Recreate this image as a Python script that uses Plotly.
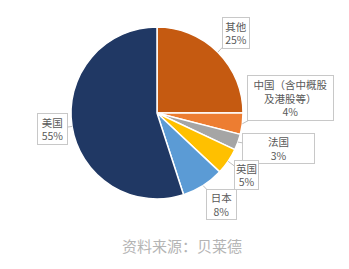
import math
import plotly.graph_objects as go

categories = ["其他", "中国（含中概股<br>及港股等）", "法国", "英国", "日本", "美国"]
values = [25, 4, 3, 5, 8, 55]
colors = ["#C55A11", "#ED7D31", "#A5A5A5", "#FFC000", "#5B9BD5", "#203864"]
# label box geometry in pixels (left, top, right, bottom)
boxes = [(222, 17, 250, 49), (247, 75, 334, 121), (242, 133, 315, 164),
         (234, 160, 259, 190), (206, 189, 237, 220), (37, 113, 68, 145)]

W, H = 349, 269
cx_px, cy_px, r_px = 157, 113, 86

fig = go.Figure(go.Pie(
    labels=categories, values=values, sort=False, direction="clockwise", rotation=0,
    marker=dict(colors=colors, line=dict(color="white", width=1.5)),
    textinfo="none", hoverinfo="label+percent", showlegend=False,
    domain=dict(x=[(cx_px - r_px) / W, (cx_px + r_px) / W],
                y=[(H - cy_px - r_px) / H, (H - cy_px + r_px) / H]),
))

total = sum(values)
cum = 0
annotations = []
for cat, v, (l, t, rr, b) in zip(categories, values, boxes):
    mid = (cum + v / 2) / total * 2 * math.pi
    cum += v
    tx = cx_px + r_px * math.sin(mid)
    ty = cy_px - r_px * math.cos(mid)
    bx, by = (l + rr) / 2, (t + b) / 2
    annotations.append(dict(
        x=tx / W, y=1 - ty / H, xref="paper", yref="paper",
        ax=bx - tx, ay=by - ty, axref="pixel", ayref="pixel",
        text=f"{cat}<br>{round(v / total * 100)}%",
        showarrow=True, arrowhead=0, arrowwidth=1, arrowcolor="#BFBFBF",
        bordercolor="#C8C8C8", borderwidth=1, borderpad=1, bgcolor="white",
        width=rr - l - 4, height=b - t - 4, align="center",
        font=dict(family="Noto Sans CJK SC", size=10.5, color="#595959"),
    ))

annotations.append(dict(
    x=182 / W, y=1 - 246 / H, xref="paper", yref="paper", showarrow=False,
    xanchor="center", yanchor="middle",
    text="资料来源：贝莱德", font=dict(family="Noto Sans CJK SC", size=15, color="#B4B4B4"),
))

fig.update_layout(
    width=W, height=H, margin=dict(l=0, r=0, t=0, b=0),
    paper_bgcolor="white", plot_bgcolor="white",
    annotations=annotations,
)
fig.write_html("out.html")
